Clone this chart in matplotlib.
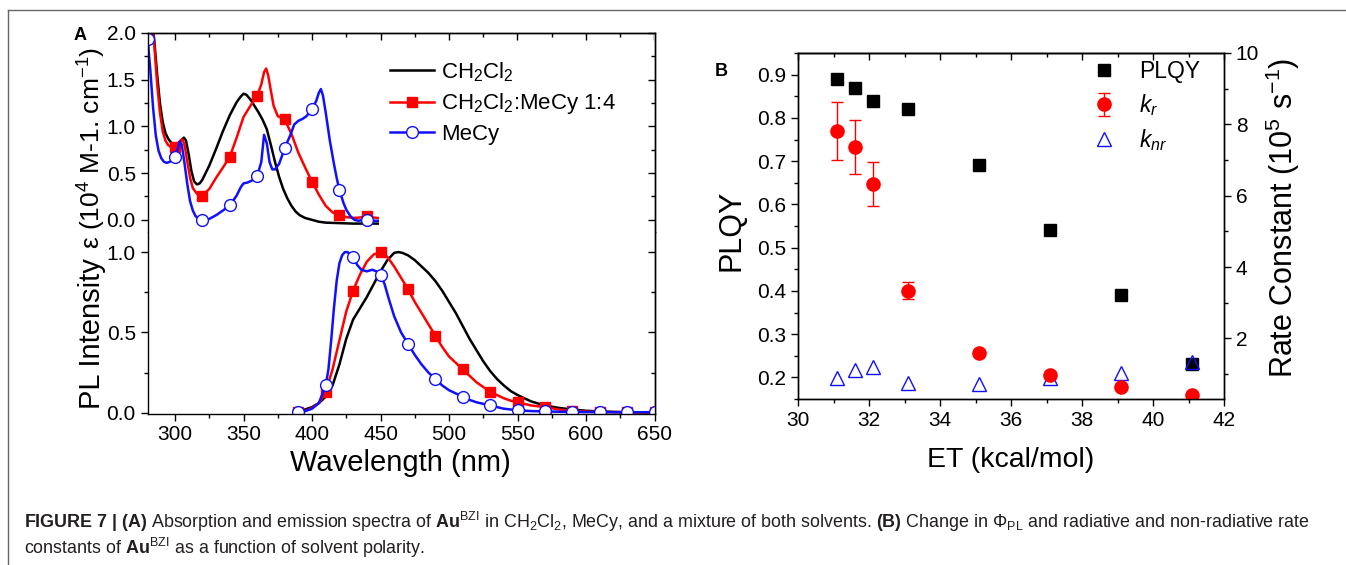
import matplotlib
matplotlib.use('Agg')
import matplotlib.pyplot as plt
from matplotlib.lines import Line2D
from matplotlib.ticker import MultipleLocator

plt.rcParams['font.family'] = ['Liberation Sans', 'DejaVu Sans']
plt.rcParams['mathtext.fontset'] = 'custom'
plt.rcParams['mathtext.rm'] = 'Liberation Sans'
plt.rcParams['mathtext.it'] = 'Liberation Sans:italic'
plt.rcParams['mathtext.bf'] = 'Liberation Sans:bold'
plt.rcParams['axes.linewidth'] = 1.0

# ---- panel A, absorption (10^4 M-1 cm-1) ----
abs_wl_dcm = [280, 283, 285, 287, 289, 291, 293, 295, 297, 299, 301, 303, 305, 306.5, 308, 310, 312,
              314, 316, 318, 320, 325, 330, 335, 340, 345, 348, 350, 352, 355, 358, 361, 364, 367,
              370, 373, 376, 379, 382, 385, 388, 391, 395, 400, 405, 410, 420, 430, 440, 448]
abs_dcm = [2.6, 2.2, 1.9, 1.55, 1.25, 1.05, 0.93, 0.87, 0.83, 0.81, 0.81, 0.83, 0.86, 0.88, 0.85, 0.70,
           0.52, 0.41, 0.38, 0.39, 0.43, 0.58, 0.76, 0.95, 1.12, 1.26, 1.32, 1.35, 1.34, 1.29, 1.22,
           1.15, 1.07, 0.97, 0.80, 0.62, 0.46, 0.33, 0.23, 0.15, 0.09, 0.05, 0.02, 0.0, -0.02, -0.03,
           -0.035, -0.04, -0.04, -0.04]

abs_wl_mix = [280, 283, 285, 287, 289, 291, 293, 295, 297, 300, 302, 304, 305.5, 307, 309, 311, 313,
              316, 320, 325, 330, 335, 340, 345, 350, 355, 360, 363, 365, 366.5, 368, 370, 372, 375,
              380, 385, 390, 395, 400, 405, 410, 415, 420, 425, 430, 435, 440, 445, 448]
abs_mix = [2.6, 2.2, 1.85, 1.45, 1.15, 0.95, 0.85, 0.80, 0.78, 0.78, 0.80, 0.85, 0.86, 0.80, 0.62, 0.45,
           0.34, 0.28, 0.26, 0.33, 0.45, 0.56, 0.675, 0.88, 1.10, 1.22, 1.33, 1.45, 1.58, 1.62, 1.55,
           1.38, 1.22, 1.11, 1.075, 0.92, 0.72, 0.56, 0.41, 0.27, 0.15, 0.08, 0.05, 0.03, 0.02, 0.025,
           0.04, 0.025, 0.02]

abs_wl_mecy = [280, 282, 284, 286, 288, 290, 292, 294, 296, 298, 300, 302, 303.5, 305, 307, 309, 311,
               313, 315, 318, 320, 322, 325, 330, 335, 340, 345, 348, 350, 353, 356, 358, 360, 363, 365,
               367, 369, 371, 373, 376, 378, 380, 384, 387, 390, 393, 396, 398, 400, 403, 405, 406.5,
               408, 410, 413, 416, 418, 420, 423, 425, 428, 431, 434, 437, 440, 445, 448]
abs_mecy = [1.94, 1.6, 1.2, 0.9, 0.74, 0.66, 0.62, 0.61, 0.62, 0.64, 0.67, 0.76, 0.84, 0.80, 0.60, 0.38,
            0.20, 0.10, 0.04, 0.005, 0.0, -0.01, 0.01, 0.05, 0.10, 0.155, 0.26, 0.35, 0.39, 0.40, 0.42,
            0.44, 0.47, 0.62, 0.91, 0.82, 0.62, 0.54, 0.54, 0.60, 0.68, 0.77, 0.90, 1.02, 1.06, 1.08,
            1.11, 1.15, 1.19, 1.27, 1.36, 1.40, 1.33, 1.15, 0.85, 0.60, 0.45, 0.32, 0.18, 0.11, 0.04,
            0.0, -0.01, 0.0, 0.0, -0.01, -0.01]

# ---- panel A, normalised PL ----
pl_wl_dcm = [388, 390, 395, 400, 405, 410, 415, 420, 425, 430, 435, 440, 445, 450, 455, 460, 463, 466,
             470, 475, 480, 485, 490, 495, 500, 505, 510, 515, 520, 525, 530, 535, 540, 545, 550, 560,
             570, 580, 590, 600, 610, 620, 630, 640, 650]
pl_dcm = [0.0, 0.01, 0.02, 0.035, 0.06, 0.10, 0.17, 0.30, 0.46, 0.58, 0.65, 0.72, 0.80, 0.88, 0.95,
          0.995, 1.0, 0.995, 0.98, 0.95, 0.91, 0.87, 0.82, 0.76, 0.69, 0.62, 0.54, 0.46, 0.39, 0.32,
          0.26, 0.21, 0.17, 0.135, 0.11, 0.07, 0.045, 0.03, 0.02, 0.012, 0.008, 0.005, 0.003, 0.002,
          0.001]

pl_wl_mix = [390, 395, 400, 405, 410, 415, 420, 425, 430, 435, 440, 445, 450, 455, 460, 465, 470, 475,
             480, 485, 490, 495, 500, 505, 510, 515, 520, 525, 530, 535, 540, 545, 550, 560, 570, 580,
             590, 600, 610, 620, 630, 640, 650]
pl_mix = [0.005, 0.01, 0.03, 0.06, 0.13, 0.27, 0.45, 0.63, 0.76, 0.86, 0.94, 0.985, 1.0, 0.97, 0.91,
          0.84, 0.77, 0.69, 0.62, 0.55, 0.48, 0.41, 0.35, 0.31, 0.27, 0.23, 0.19, 0.16, 0.13, 0.11,
          0.09, 0.075, 0.065, 0.045, 0.035, 0.02, 0.01, 0.007, 0.005, 0.004, 0.003, 0.002, 0.002]

pl_wl_mecy = [390, 395, 400, 405, 410, 412, 414, 416, 418, 420, 422, 424, 426, 428, 430, 433, 436, 440,
              444, 447, 450, 453, 456, 460, 465, 470, 475, 480, 485, 490, 495, 500, 505, 510, 515, 520,
              525, 530, 535, 540, 545, 550, 560, 570, 580, 590, 600, 610, 620, 630, 640, 650]
pl_mecy = [0.005, 0.01, 0.025, 0.06, 0.17, 0.27, 0.45, 0.65, 0.82, 0.93, 0.98, 1.0, 1.0, 0.98, 0.97,
           0.92, 0.89, 0.88, 0.89, 0.88, 0.86, 0.80, 0.71, 0.60, 0.50, 0.43, 0.36, 0.30, 0.25, 0.21,
           0.17, 0.14, 0.12, 0.10, 0.08, 0.065, 0.055, 0.045, 0.035, 0.025, 0.02, 0.015, 0.01, 0.008,
           0.006, 0.005, 0.004, 0.004, 0.003, 0.003, 0.003, 0.003]

# ---- panel B ----
et = [31.1, 31.6, 32.1, 33.1, 35.1, 37.1, 39.1, 41.1]
plqy = [0.89, 0.87, 0.84, 0.82, 0.69, 0.54, 0.39, 0.23]
kr = [7.82, 7.37, 6.33, 3.33, 1.59, 0.96, 0.63, 0.40]
kr_err = [0.82, 0.75, 0.61, 0.24, 0.0, 0.0, 0.0, 0.0]
knr = [0.88, 1.10, 1.21, 0.75, 0.72, 0.90, 1.02, 1.33]

RED = '#ff0000'
BLUE = '#1010ff'
TICK_FS = 15

W, H = 1346, 565
fig = plt.figure(figsize=(W / 100, H / 100), dpi=100)


def box(x0, y0, x1, y1):
    # pixel box (top-left origin) -> figure fraction rect
    return [x0 / W, 1 - y1 / H, (x1 - x0) / W, (y1 - y0) / H]


def marks(wl, start):
    return [i for i, w in enumerate(wl) if (w - start) % 20 == 0]


def mirror_ticks(ax, xmaj, xmin, ymaj, ymin, top=True, right=True):
    if top:
        sx = ax.secondary_xaxis('top')
        sx.xaxis.set_major_locator(MultipleLocator(xmaj))
        sx.xaxis.set_minor_locator(MultipleLocator(xmin))
        sx.tick_params(which='both', direction='in', labeltop=False)
        sx.tick_params(which='major', length=5, width=1)
        sx.tick_params(which='minor', length=3, width=1)
    if right:
        sy = ax.secondary_yaxis('right')
        sy.yaxis.set_major_locator(MultipleLocator(ymaj))
        sy.yaxis.set_minor_locator(MultipleLocator(ymin))
        sy.tick_params(which='both', direction='in', labelright=False)
        sy.tick_params(which='major', length=5, width=1)
        sy.tick_params(which='minor', length=3, width=1)


def base_ticks(ax):
    ax.tick_params(which='both', direction='out', labelsize=TICK_FS, width=1)
    ax.tick_params(which='major', length=5)
    ax.tick_params(which='minor', length=3)


# absorption layer
axA1 = fig.add_axes(box(147.6, 33, 654.5, 232))
axA1.plot(abs_wl_dcm, abs_dcm, color='black', lw=1.8)
axA1.plot(abs_wl_mix, abs_mix, color=RED, lw=1.8, marker='s', ms=7,
          markevery=marks(abs_wl_mix, 280))
axA1.plot(abs_wl_mecy, abs_mecy, color=BLUE, lw=1.8, marker='o', ms=8.5, mfc='white',
          mec=BLUE, mew=1.0, markevery=marks(abs_wl_mecy, 280))
axA1.set_xlim(280, 650)
axA1.set_ylim(-0.13, 2.0)
axA1.yaxis.set_major_locator(MultipleLocator(0.5))
axA1.yaxis.set_minor_locator(MultipleLocator(0.25))
base_ticks(axA1)
axA1.tick_params(axis='x', which='both', bottom=False, labelbottom=False)
axA1.spines['bottom'].set_visible(False)
mirror_ticks(axA1, 50, 25, 0.5, 0.25)

# emission layer
axA2 = fig.add_axes(box(147.6, 232, 654.5, 413.5))
axA2.plot(pl_wl_dcm, pl_dcm, color='black', lw=1.8, label='CH$_2$Cl$_2$')
axA2.plot(pl_wl_mix, pl_mix, color=RED, lw=1.8, marker='s', ms=7,
          markevery=marks(pl_wl_mix, 390), label='CH$_2$Cl$_2$:MeCy 1:4')
axA2.plot(pl_wl_mecy, pl_mecy, color=BLUE, lw=1.8, marker='o', ms=8.5, mfc='white',
          mec=BLUE, mew=1.0, markevery=marks(pl_wl_mecy, 390), label='MeCy')
axA2.set_xlim(280, 650)
axA2.set_ylim(-0.005, 1.125)
axA2.xaxis.set_major_locator(MultipleLocator(50))
axA2.xaxis.set_minor_locator(MultipleLocator(25))
axA2.yaxis.set_major_locator(MultipleLocator(0.5))
axA2.yaxis.set_minor_locator(MultipleLocator(0.25))
base_ticks(axA2)
axA2.spines['top'].set_visible(False)
mirror_ticks(axA2, 50, 25, 0.5, 0.25, top=False)

handles, labels = axA2.get_legend_handles_labels()
axA1.legend(handles, labels, loc='upper left', bbox_to_anchor=(390 / W, 1 - 60 / H),
            bbox_transform=fig.transFigure, frameon=False, fontsize=16, handlelength=2.0,
            handletextpad=0.3, labelspacing=0.35, borderpad=0, borderaxespad=0)

fig.text(400 / W, 1 - 463 / H, 'Wavelength (nm)', fontsize=21, ha='center', va='center')
fig.text(92 / W, 1 - 334 / H, 'PL Intensity', fontsize=21, rotation=90, ha='center', va='center')
fig.text(92 / W, 1 - 148 / H, 'ε (10$^4$ M-1. cm$^{-1}$)', fontsize=19, rotation=90,
         ha='center', va='center')
fig.text(80 / W, 1 - 35 / H, 'A', fontsize=13, fontweight='bold', ha='center', va='center')

# panel B
axB = fig.add_axes(box(798, 53, 1224, 399))
axB2 = axB.twinx()
p1, = axB.plot(et, plqy, 's', color='black', ms=8, label='PLQY')
p2 = axB2.errorbar(et, kr, yerr=kr_err, fmt='o', color=RED, ms=9.5, elinewidth=1.0,
                   capsize=4, capthick=1.0, label='$k_r$')
p3, = axB2.plot(et, knr, '^', color=BLUE, mfc='none', mec=BLUE, ms=9.5, mew=1.0,
                label='$k_{nr}$')
axB.set_xlim(30, 42)
axB.set_ylim(0.15, 0.95)
axB2.set_ylim(0.3, 10)
axB.xaxis.set_major_locator(MultipleLocator(2))
axB.xaxis.set_minor_locator(MultipleLocator(1))
axB.yaxis.set_major_locator(MultipleLocator(0.1))
axB.yaxis.set_minor_locator(MultipleLocator(0.05))
axB2.yaxis.set_major_locator(MultipleLocator(2))
axB2.yaxis.set_minor_locator(MultipleLocator(1))
base_ticks(axB)
base_ticks(axB2)
mirror_ticks(axB, 2, 1, 0.1, 0.05, right=False)

axB.legend([p1, p2, p3], ['PLQY', '$k_r$', '$k_{nr}$'], loc='upper left',
           bbox_to_anchor=(1093 / W, 1 - 60 / H), bbox_transform=fig.transFigure,
           frameon=False, fontsize=16.5, handlelength=1.0, handletextpad=1.0,
           labelspacing=0.4, borderpad=0, borderaxespad=0)

fig.text(1011 / W, 1 - 460 / H, 'ET (kcal/mol)', fontsize=20.5, ha='center', va='center')
fig.text(731 / W, 1 - 230 / H, 'PLQY', fontsize=22, rotation=90, ha='center', va='center')
fig.text(1283 / W, 1 - 218 / H, 'Rate Constant (10$^5$ s$^{-1}$)', fontsize=22, rotation=90,
         ha='center', va='center')
fig.text(721 / W, 1 - 71 / H, 'B', fontsize=13, fontweight='bold', ha='center', va='center')

# caption
cap1 = (r'$\mathbf{FIGURE\ 7\ |\ (A)}$ Absorption and emission spectra of $\mathbf{Au}^{\mathrm{BZI}}$'
        r' in CH$_2$Cl$_2$, MeCy, and a mixture of both solvents. $\mathbf{(B)}$ Change in'
        r' $\Phi_{\mathrm{PL}}$ and radiative and non-radiative rate')
cap2 = r'constants of $\mathbf{Au}^{\mathrm{BZI}}$ as a function of solvent polarity.'
fig.text(24 / W, 1 - 522 / H, cap1, fontsize=12.9, color='#231f20', va='center')
fig.text(24 / W, 1 - 548 / H, cap2, fontsize=12.9, color='#231f20', va='center')

# frame
fig.add_artist(Line2D([8 / W, 1], [1 - 10 / H, 1 - 10 / H], transform=fig.transFigure,
                      color='#666666', lw=1.0))
fig.add_artist(Line2D([8 / W, 8 / W], [0, 1 - 10 / H], transform=fig.transFigure,
                      color='#666666', lw=1.0))

fig.savefig('out.png', dpi=100)
